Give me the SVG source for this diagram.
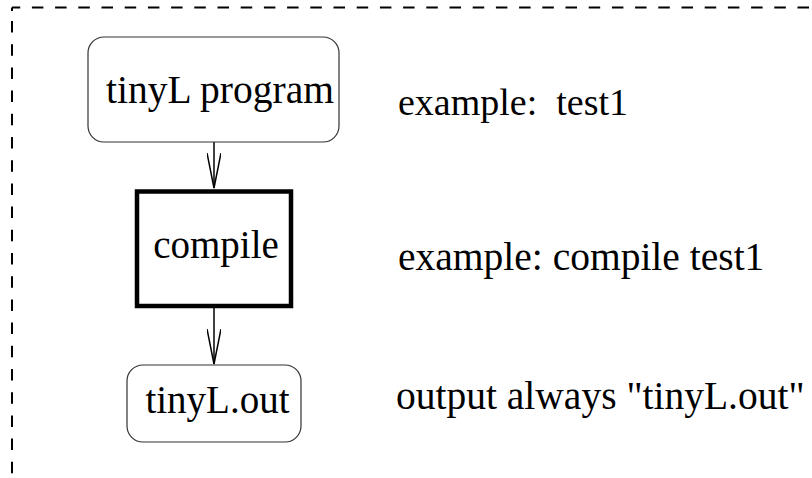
<svg xmlns="http://www.w3.org/2000/svg" width="812" height="478" viewBox="0 0 812 478">
<defs>
<style>
text{font-family:'Liberation Serif','Times New Roman',serif;font-size:39px;fill:#000}
.box{fill:#fff;stroke:#333;stroke-width:1.2}
.thick{fill:#fff;stroke:#000;stroke-width:4.5}
.frame{fill:none;stroke:#000;stroke-width:2;stroke-dasharray:11.5 11.7}
.conn{fill:none;stroke:#000;stroke-width:1.5}
</style>
<marker id="v" viewBox="0 0 36 14" refX="35" refY="7" markerWidth="36" markerHeight="14" markerUnits="userSpaceOnUse" orient="auto">
<path d="M0,0 L35,7 L0,14" fill="none" stroke="#000" stroke-width="1.5"/>
</marker>
</defs>
<rect width="812" height="478" fill="#fff"/>
<g id="frame">
<path class="frame" d="M12 7.5 H812" stroke-dashoffset="3.3"/>
<path class="frame" d="M12 7.5 V11"/>
<path class="frame" d="M12 21 V478"/>
</g>
<g id="connectors">
<path class="conn" d="M214 142 V188" marker-end="url(#v)"/>
<path class="conn" d="M214 308 V364" marker-end="url(#v)"/>
</g>
<g id="tinyL-program">
<rect class="box" x="88" y="37" width="251" height="105" rx="16"/>
<text x="220" y="103" text-anchor="middle" style="font-size:39.5px">tinyL program</text>
</g>
<g id="compile">
<rect class="thick" x="137" y="191.5" width="154" height="114.5"/>
<text x="216" y="258" text-anchor="middle">compile</text>
</g>
<g id="tinyL-out">
<rect class="box" x="127" y="365" width="174" height="77" rx="16"/>
<text x="217.5" y="413" text-anchor="middle">tinyL.out</text>
</g>
<g id="notes">
<text x="398" y="115" xml:space="preserve" style="font-size:38px">example:  test1</text>
<text x="398" y="270" style="font-size:39.5px">example: compile test1</text>
<text x="396" y="409" style="font-size:39.5px">output always "tinyL.out"</text>
</g>
</svg>
